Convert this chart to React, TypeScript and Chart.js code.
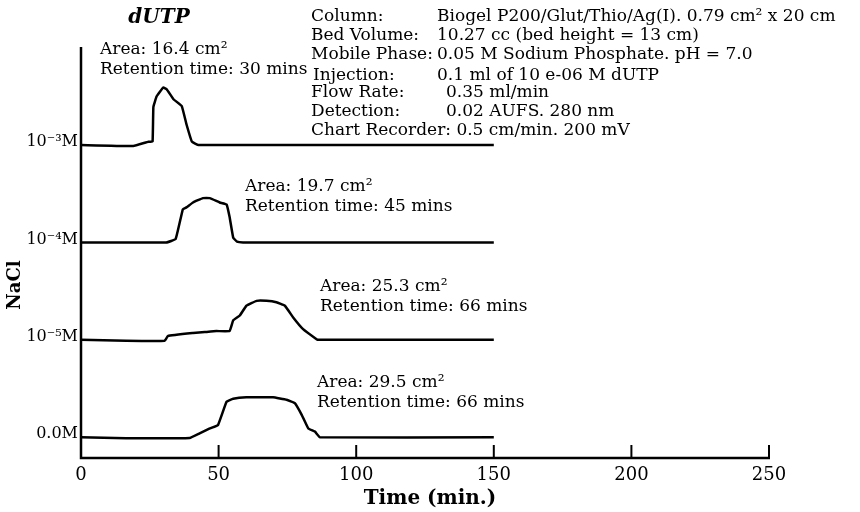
import React, { useEffect, useRef } from "react";
import { Chart, registerables } from "chart.js";

Chart.register(...registerables);

// ---- data ----
const levelLabels = ["10⁻³M", "10⁻⁴M", "10⁻⁵M", "0.0M"];
const levelOffsets = [3, 2, 1, 0];

const time1 = [0, 19, 24.5, 26.0, 26.3, 27.5, 29.9, 31.2, 33.6, 36.6, 38.4, 40.3, 42.7, 150];
const signal1 = [0, -0.01, 0.034, 0.034, 0.39, 0.5, 0.59, 0.57, 0.47, 0.4, 0.205, 0.034, 0, 0];

const time2 = [0, 31, 34.4, 37, 38.3, 40.7, 44.3, 46.8, 50.4, 52.9, 54, 55.3, 56.7, 58.9, 150];
const signal2 = [0, 0, 0.035, 0.34, 0.36, 0.41, 0.455, 0.455, 0.41, 0.39, 0.26, 0.05, 0.007, 0, 0];

const time3 = [0, 16.4, 30.4, 31.6, 40.7, 45, 49.2, 54, 55.3, 57.7, 60.1, 63.8, 67.4, 71, 74.1, 77.1, 80.7, 85.6, 86.2, 150];
const signal3 = [0, -0.01, -0.01, 0.04, 0.07, 0.08, 0.09, 0.09, 0.2, 0.25, 0.35, 0.4, 0.4, 0.385, 0.35, 0.23, 0.11, 0.007, 0, 0];

const time4 = [0, 16.4, 39.5, 43.1, 46.8, 49.8, 52.9, 55.3, 60.1, 69.8, 74.7, 77.7, 80.2, 82.6, 85, 86.8, 150];
const signal4 = [0, -0.01, -0.007, 0.04, 0.09, 0.126, 0.365, 0.395, 0.41, 0.41, 0.385, 0.35, 0.23, 0.09, 0.058, 0, 0];

const xTicks = [0, 50, 100, 150, 200, 250];

const areaNotes = ["Area: 16.4 cm²", "Area: 19.7 cm²", "Area: 25.3 cm²", "Area: 29.5 cm²"];
const retentionNotes = [
  "Retention time: 30 mins",
  "Retention time: 45 mins",
  "Retention time: 66 mins",
  "Retention time: 66 mins",
];

const titleText = "dUTP";
const xTitle = "Time (min.)";
const yTitle = "NaCl";

const infoLabels = ["Column:", "Bed Volume:", "Mobile Phase:", "Injection:", "Flow Rate:", "Detection:", ""];
const infoValues = [
  "Biogel P200/Glut/Thio/Ag(I). 0.79 cm² x 20 cm",
  "10.27 cc (bed height = 13 cm)",
  "0.05 M Sodium Phosphate. pH = 7.0",
  "0.1 ml of 10 e-06 M dUTP",
  "0.35 ml/min",
  "0.02 AUFS. 280 nm",
  "Chart Recorder: 0.5 cm/min. 200 mV",
];

const traces = [
  { time: time1, signal: signal1 },
  { time: time2, signal: signal2 },
  { time: time3, signal: signal3 },
  { time: time4, signal: signal4 },
];

const SERIF = '"DejaVu Serif", "Liberation Serif", serif';

const decorPlugin = {
  id: "decor",
  afterDraw(chart: any) {
    const ctx = chart.ctx as CanvasRenderingContext2D;
    const xs = chart.scales.x;
    const ys = chart.scales.y;
    const x0 = xs.getPixelForValue(0);
    const xEnd = xs.getPixelForValue(250);
    const yBottom = ys.getPixelForValue(ys.min);
    const yTop = ys.getPixelForValue(ys.max);
    ctx.save();
    ctx.strokeStyle = "#000";
    ctx.fillStyle = "#000";
    ctx.lineCap = "butt";
    // axes
    ctx.lineWidth = 2.5;
    ctx.beginPath();
    ctx.moveTo(x0, yTop);
    ctx.lineTo(x0, yBottom);
    ctx.lineTo(xEnd + 1, yBottom);
    ctx.stroke();
    // inward ticks
    ctx.lineWidth = 2;
    xTicks.forEach((t) => {
      if (t === 0) return;
      const px = xs.getPixelForValue(t);
      ctx.beginPath();
      ctx.moveTo(px, yBottom);
      ctx.lineTo(px, yBottom - 13);
      ctx.stroke();
    });
    // tick labels
    ctx.font = `18px ${SERIF}`;
    ctx.textAlign = "center";
    ctx.textBaseline = "middle";
    xTicks.forEach((t) => {
      ctx.fillText(String(t), xs.getPixelForValue(t), 475);
    });
    // x title
    ctx.font = `bold 20px ${SERIF}`;
    ctx.fillText(xTitle, 430, 499);
    // y title
    ctx.save();
    ctx.translate(15, 285);
    ctx.rotate(-Math.PI / 2);
    ctx.font = `bold 18px ${SERIF}`;
    ctx.fillText(yTitle, 0, 0);
    ctx.restore();
    // level labels
    ctx.font = `16px ${SERIF}`;
    ctx.textAlign = "right";
    levelLabels.forEach((lab, i) => {
      const py = ys.getPixelForValue(levelOffsets[i]);
      ctx.fillText(lab, 78, py - 3);
    });
    // title
    ctx.textAlign = "center";
    ctx.font = `italic bold 20px ${SERIF}`;
    ctx.fillText(titleText, 159, 18);
    // peak notes
    const notePos = [
      [100, 50],
      [245, 187],
      [320, 287],
      [317, 383],
    ];
    ctx.textAlign = "left";
    ctx.font = `17px ${SERIF}`;
    notePos.forEach((p, i) => {
      ctx.fillText(areaNotes[i], p[0], p[1]);
      ctx.fillText(retentionNotes[i], p[0], p[1] + 20);
    });
    // info block
    infoLabels.forEach((lab, i) => {
      const py = 17 + 19 * i + (i === 3 ? 2 : 0);
      const lx = i === 3 ? 313 : 311;
      if (lab) {
        ctx.fillText(lab, lx, py);
        const vx = i === 4 || i === 5 ? 446 : 437;
        ctx.fillText(infoValues[i], vx, py);
      } else {
        ctx.fillText(infoValues[i], 311, py);
      }
    });
    ctx.restore();
  },
};

export default function App() {
  const ref = useRef<HTMLCanvasElement | null>(null);
  useEffect(() => {
    document.body.style.margin = "0";
    const canvas = ref.current!;
    const datasets = traces.map((tr, i) => ({
      label: levelLabels[i],
      data: tr.time.map((t, j) => ({ x: t, y: levelOffsets[i] + tr.signal[j] })),
      borderColor: "#000",
      borderWidth: 2.5,
      pointRadius: 0,
      tension: 0.08,
      fill: false,
    }));
    const chart = new Chart(canvas, {
      type: "line",
      data: { datasets },
      options: {
        responsive: false,
        animation: false,
        devicePixelRatio: 1,
        layout: { padding: { left: 81, right: 860 - 769, top: 47, bottom: 512 - 458 } },
        plugins: { legend: { display: false }, tooltip: { enabled: false } },
        scales: {
          x: { type: "linear", min: 0, max: 250, display: false },
          y: { type: "linear", min: -0.213, max: 4.006, display: false },
        },
      },
      plugins: [decorPlugin],
    });
    return () => chart.destroy();
  }, []);
  return (
    <div style={{ position: "absolute", left: 0, top: 0, width: 860, height: 512, background: "#fff" }}>
      <canvas ref={ref} width={860} height={512} style={{ width: 860, height: 512 }} />
    </div>
  );
}
